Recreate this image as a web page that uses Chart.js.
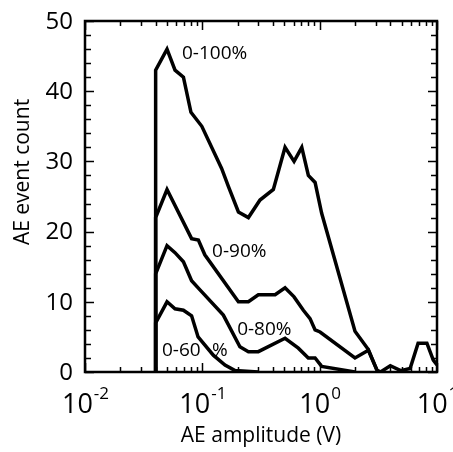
<!DOCTYPE html>
<html><head><meta charset="utf-8">
<script src="https://cdn.jsdelivr.net/npm/chart.js@4/dist/chart.umd.min.js"></script>
<style>html,body{margin:0;padding:0;background:#fff}#wrap{width:453px;height:452px;position:relative}</style>
</head><body><div id="wrap"><canvas id="c"></canvas></div>
<script>
// ---- data ----
const x100 = [0.04,0.04,0.05,0.0585,0.069,0.08,0.099,0.146,0.167,0.203,0.247,0.31,0.403,0.507,0.605,0.704,0.801,0.914,1.04,2.0,2.6,3.07,3.3,4.0,4.9,5.9,6.9,8.2,9.3,10];
const y100 = [0,43,46,43,42,37,35,29,26.4,22.8,22,24.5,26,32,30,32,28,27,22.6,5.8,3.2,0.3,0,0.9,0.2,0.5,4.1,4.1,1.7,1];
const x90 = [0.04,0.04,0.05,0.081,0.0925,0.105,0.203,0.247,0.30,0.417,0.507,0.605,0.726,0.828,0.914,1.008,2.0,2.6,3.07];
const y90 = [0,22,26,19,18.8,16.7,10,10,11,11,12,10.7,8.8,7.6,6,5.7,2,3.1,0.3];
const x80 = [0.04,0.04,0.05,0.0585,0.069,0.081,0.0955,0.151,0.209,0.247,0.30,0.507,0.658,0.80,0.914,1.04,2.0];
const y80 = [0,14,18,17,15.7,13,11.7,8.1,3.6,2.9,2.9,4.8,3.4,2,2,0.8,0];
const x60 = [0.04,0.04,0.05,0.0585,0.069,0.081,0.092,0.124,0.156,0.19,0.3];
const y60 = [0,7,10,9,8.8,8,5,2.4,1,0.2,0];
const seriesNames = ['0-100%','0-90%','0-80%','0-60 %'];
const labelX = [0.0671,0.121,0.198,0.0453];
const labelY = [45.4,17.2,6.1,3.0];
const yTickValues = [0,10,20,30,40,50];
const xTickExponents = [-2,-1,0,1];
const xTitle = 'AE amplitude (V)';
const yTitle = 'AE event count';

const FONT = '"Open Sans", "DejaVu Sans", sans-serif';
function pts(xs, ys){ return xs.map((x,i)=>({x:x, y:ys[i]})); }

const framePlugin = {
  id:'frame',
  afterDraw(chart){
    const {ctx, chartArea:a, scales:{x, y}} = chart;
    ctx.save();
    ctx.strokeStyle = '#000';
    ctx.fillStyle = '#000';
    // frame
    ctx.lineWidth = 2.5;
    ctx.strokeRect(a.left, a.top, a.right-a.left, a.bottom-a.top);
    // y ticks (left & right, inward)
    ctx.lineWidth = 1.5;
    for (let v=0; v<=50; v+=2){
      const py = Math.round(y.getPixelForValue(v))+0.5;
      const len = (v%10===0)?9:6;
      ctx.beginPath();
      ctx.moveTo(a.left, py); ctx.lineTo(a.left+len, py);
      ctx.moveTo(a.right, py); ctx.lineTo(a.right-len, py);
      ctx.stroke();
    }
    // x ticks (bottom & top, inward)
    for (let e=-2; e<=1; e++){
      for (let m=1; m<=9; m++){
        const v = m*Math.pow(10,e);
        if (v>10.0001) break;
        const px = Math.round(x.getPixelForValue(v))+0.5;
        const len = (m===1)?9:5;
        ctx.beginPath();
        ctx.moveTo(px, a.bottom); ctx.lineTo(px, a.bottom-len);
        ctx.moveTo(px, a.top); ctx.lineTo(px, a.top+len);
        ctx.stroke();
      }
    }
    // y tick labels
    ctx.font = '24px '+FONT;
    ctx.textAlign = 'right';
    ctx.textBaseline = 'middle';
    yTickValues.forEach(v=>{
      ctx.fillText(String(v), a.left-12, y.getPixelForValue(v)+1);
    });
    // x tick labels 10^n
    ctx.textBaseline = 'alphabetic';
    ctx.textAlign = 'left';
    xTickExponents.forEach(e=>{
      const base = '10', sup = String(e);
      ctx.font = '27px '+FONT;
      const wb = ctx.measureText(base).width;
      ctx.font = '17px '+FONT;
      const ws = ctx.measureText(sup).width;
      const cx = x.getPixelForValue(Math.pow(10,e));
      const left = cx - (wb+ws)/2;
      ctx.font = '27px '+FONT;
      ctx.fillText(base, left, a.bottom+41);
      ctx.font = '17px '+FONT;
      ctx.fillText(sup, left+wb+1, a.bottom+27);
    });
    // axis titles
    ctx.font = '21px '+FONT;
    ctx.textAlign = 'center';
    ctx.textBaseline = 'alphabetic';
    ctx.fillText(xTitle, (a.left+a.right)/2, a.bottom+70);
    ctx.save();
    ctx.translate(29, 172);
    ctx.rotate(-Math.PI/2);
    ctx.fillText(yTitle, 0, 0);
    ctx.restore();
    // series labels
    ctx.font = '19px '+FONT;
    ctx.textAlign = 'left';
    ctx.textBaseline = 'middle';
    seriesNames.forEach((name,i)=>{
      const px = x.getPixelForValue(labelX[i]);
      const py = y.getPixelForValue(labelY[i]);
      const parts = name.split(' ');
      if (parts.length===2){
        ctx.fillText(parts[0], px, py);
        ctx.fillText(parts[1], px+50, py);
      } else {
        ctx.fillText(name, px, py);
      }
    });
    ctx.restore();
  }
};

new Chart(document.getElementById('c'), {
  type:'line',
  data:{datasets:[
    {label:seriesNames[0], data:pts(x100,y100)},
    {label:seriesNames[1], data:pts(x90,y90)},
    {label:seriesNames[2], data:pts(x80,y80)},
    {label:seriesNames[3], data:pts(x60,y60)}
  ]},
  options:{
    responsive:true, maintainAspectRatio:false, animation:false,
    layout:{padding:{left:85,right:16,top:21,bottom:80}},
    plugins:{legend:{display:false}, tooltip:{enabled:false}},
    elements:{point:{radius:0}, line:{borderWidth:3.5, tension:0, borderColor:'#000', borderJoinStyle:'miter', fill:false}},
    scales:{
      x:{type:'logarithmic', min:0.01, max:10, display:false},
      y:{type:'linear', min:0, max:50, display:false}
    }
  },
  plugins:[framePlugin]
});
</script></body></html>
